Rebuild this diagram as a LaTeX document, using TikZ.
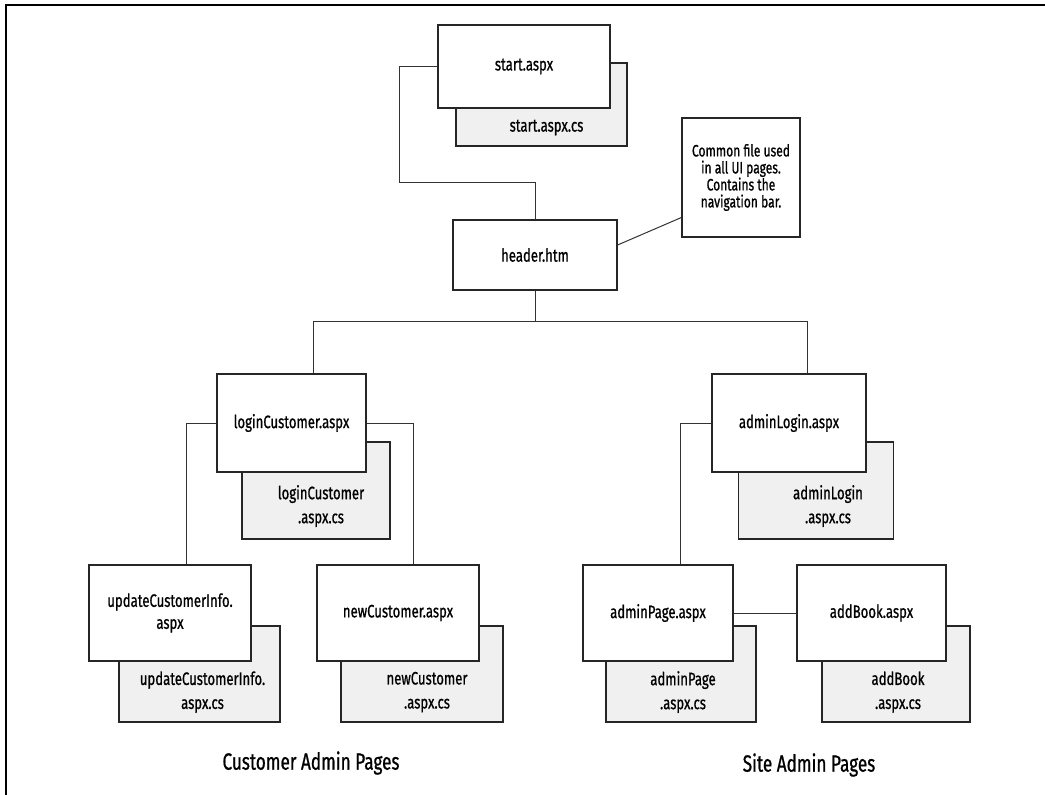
\documentclass[tikz,border=0pt]{standalone}
\usepackage{fontspec}
\setmainfont{Fira Sans}[FakeStretch=0.73, FakeBold=0.8]
\usetikzlibrary{positioning, calc}
\tikzset{block/.style={draw=black!85, line width=1.2pt, fill=white, align=center, inner sep=0pt, font=\fontsize{18}{22}\selectfont},
shadowbox/.style={draw=black!85, line width=1.2pt, fill=black!6},
cslabel/.style={align=center, font=\fontsize{18}{24}\selectfont},
grouplabel/.style={font=\fontsize{23.5}{24}\selectfont},
line/.style={draw=black!80, line width=1pt}
}
\begin{document}
\begin{tikzpicture}[x=1pt,y=-1pt]
\useasboundingbox (0,0) rectangle (1045,795);
\draw[line width=2pt] (6,795) -- (6,5) -- (1045,5);
% top of the tree
\node[shadowbox, minimum width=171pt, minimum height=83pt] (startcs) at (541.5,104.5) {};
\node[block, minimum width=172pt, minimum height=83pt] (start) at (524,66.5) {start.aspx};
\node[cslabel, xshift=5pt] at ($(startcs.south)!0.5!(startcs.south |- start.south)$) {start.aspx.cs};
\node[block, minimum width=164pt, minimum height=70pt] (header) at (535,255) {header.htm};
\node[block, minimum width=118pt, minimum height=119pt, font=\fontsize{16.5}{17}\selectfont] (note) at (741,177.5) {Common file used\\in all UI pages.\\Contains the\\navigation bar.};
% customer admin pages
\node[shadowbox, minimum width=148pt, minimum height=97pt] (logincs) at (316,490.5) {};
\node[block, minimum width=149pt, minimum height=98pt] (login) at (291.5,423) {loginCustomer.aspx};
\node[cslabel, xshift=5pt] at ($(logincs.south)!0.5!(logincs.south |- login.south)$) {loginCustomer\\.aspx.cs};
\node[shadowbox, minimum width=161pt, minimum height=96pt] (updatecs) at (199.5,674) {};
\node[block, minimum width=162pt, minimum height=96pt] (update) at (170,613) {updateCustomerInfo.\\aspx};
\node[cslabel, xshift=3pt] at ($(updatecs.south)!0.5!(updatecs.south |- update.south)$) {updateCustomerInfo.\\aspx.cs};
\node[shadowbox, minimum width=162pt, minimum height=96pt] (newcustcs) at (422,674) {};
\node[block, minimum width=162pt, minimum height=96pt] (newcust) at (398,613) {newCustomer.aspx};
\node[cslabel, xshift=5pt] at ($(newcustcs.south)!0.5!(newcustcs.south |- newcust.south)$) {newCustomer\\.aspx.cs};
% site admin pages
\node[shadowbox, minimum width=155pt, minimum height=97pt] (alogincs) at (816,490.5) {};
\node[block, minimum width=154pt, minimum height=98pt] (alogin) at (789,423) {adminLogin.aspx};
\node[cslabel, xshift=12pt] at ($(alogincs.south)!0.5!(alogincs.south |- alogin.south)$) {adminLogin\\.aspx.cs};
\node[shadowbox, minimum width=150pt, minimum height=96pt] (apagecs) at (681,674) {};
\node[block, minimum width=150pt, minimum height=96pt] (apage) at (658,613) {adminPage.aspx};
\node[cslabel, xshift=2pt] at ($(apagecs.south)!0.5!(apagecs.south |- apage.south)$) {adminPage\\.aspx.cs};
\node[shadowbox, minimum width=148pt, minimum height=96pt] (addbookcs) at (896,674) {};
\node[block, minimum width=149pt, minimum height=96pt] (addbook) at (871.5,613) {addBook.aspx};
\node[cslabel, xshift=2pt] at ($(addbookcs.south)!0.5!(addbookcs.south |- addbook.south)$) {addBook\\.aspx.cs};
\node[grouplabel] (custlabel) at (311,763) {Customer Admin Pages};
\node[grouplabel] (sitelabel) at (809,765) {Site Admin Pages};
% connectors
\draw[line] (start.west) -- ++(-38,0) |- ([yshift=37pt]header.north) -- (header.north);
\draw[line] ([yshift=10pt]header.east) -- ([yshift=-40pt]note.west);
\draw[line] (header.south) -- ++(0,31) coordinate (split);
\draw[line] ([xshift=21.5pt]login.north) |- (split) -| ([xshift=18pt]alogin.north);
\draw[line] (login.west) -| ([xshift=16pt]update.north);
\draw[line] (login.east) -| ([xshift=15pt]newcust.north);
\draw[line] (alogin.west) -| ([xshift=22pt]apage.north);
\draw[line] (apage.east) -- (addbook.west);
\end{tikzpicture}
\end{document}
